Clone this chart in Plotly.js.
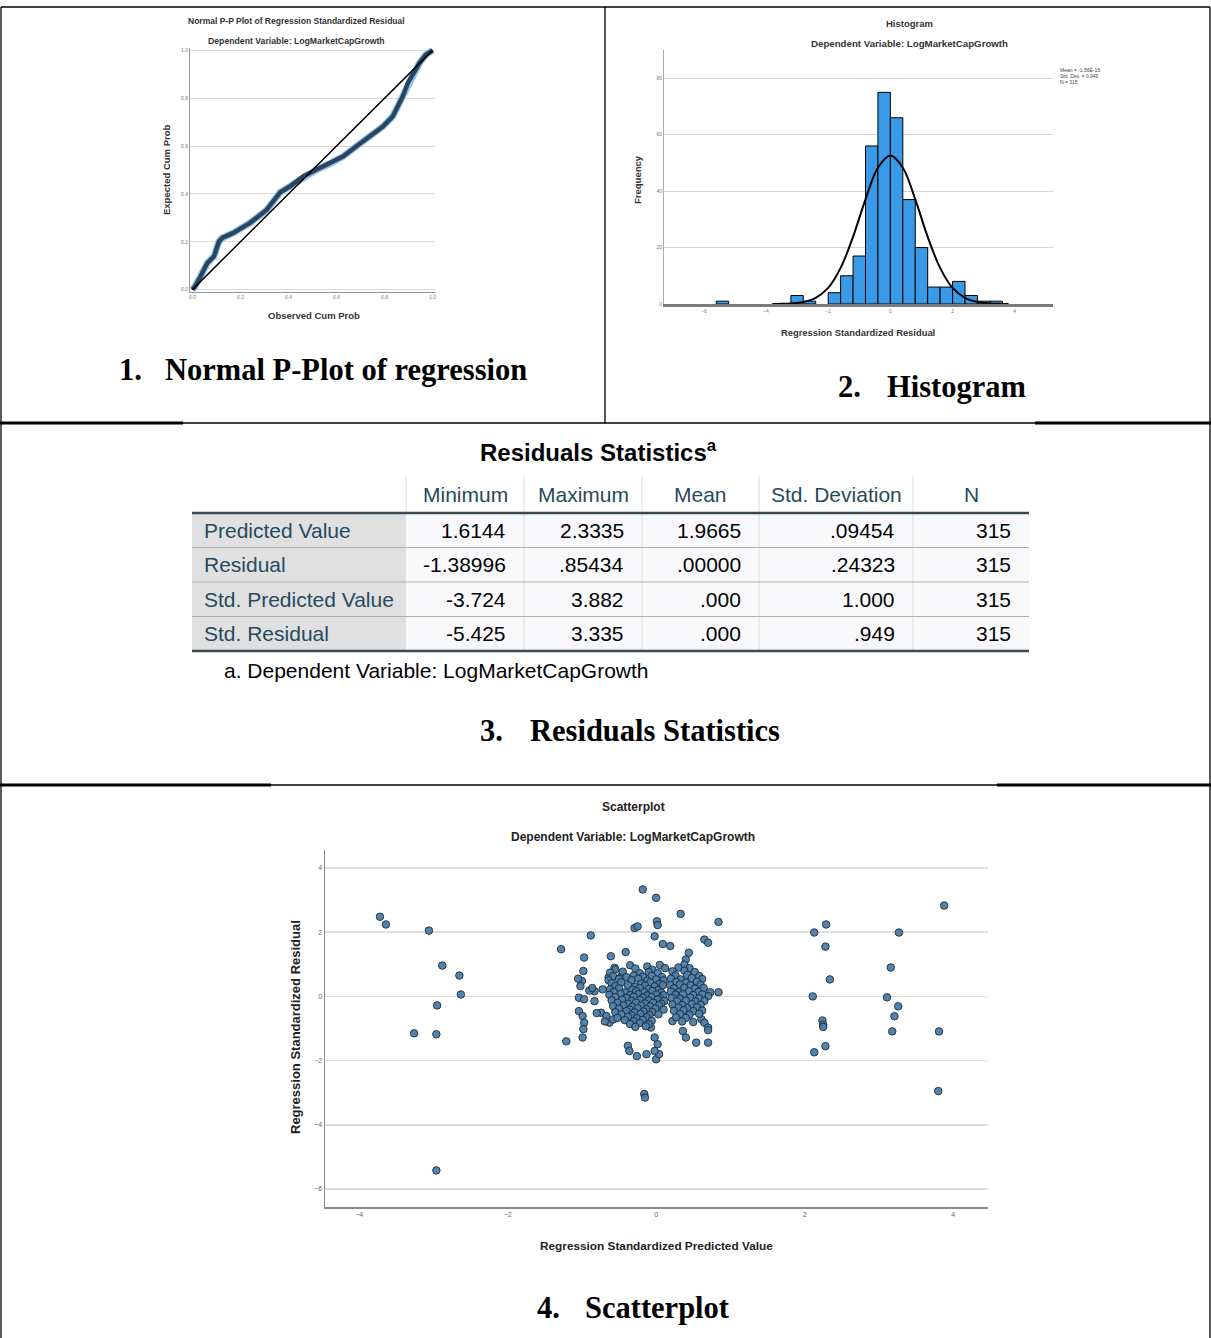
<!DOCTYPE html>
<html><head><meta charset="utf-8">
<script src="https://cdn.plot.ly/plotly-3.0.1.min.js"></script>
<style>html,body{margin:0;padding:0;background:#fff}#chart{width:1211px;height:1338px}</style>
</head><body><div id="chart"></div>
<script>
// ---------------- DATA ----------------
// 1. Normal P-P plot
const ppObserved = [0.0,0.01,0.034,0.062,0.09,0.11,0.124,0.17,0.24,0.31,0.366,0.407,0.462,0.517,0.572,0.628,0.683,0.738,0.793,0.834,0.855,0.876,0.897,0.917,0.945,0.972,1.0];
const ppExpected = [0.0,0.012,0.056,0.111,0.139,0.20,0.216,0.237,0.279,0.334,0.407,0.432,0.474,0.501,0.526,0.557,0.599,0.641,0.682,0.724,0.766,0.808,0.864,0.898,0.947,0.982,1.0];
const diagX = [0, 1];
const diagY = [0, 1];
const ppTicks = [0, 0.2, 0.4, 0.6, 0.8, 1.0];

// 2. Histogram
const histBinCenters = [-5.4,-3.0,-2.6,-1.8,-1.4,-1.0,-0.6,-0.2,0.2,0.6,1.0,1.4,1.8,2.2,2.6,3.0,3.4];
const histCounts     = [1,3,1,4,10,17,56,75,66,37,20,6,6,8,3,1,1];
const histBinWidth = 0.4;
const curveX = [-3.8,-3.6,-3.2,-2.8,-2.4,-2.0,-1.6,-1.2,-0.8,-0.4,0,0.4,0.8,1.2,1.6,2.0,2.4,2.8,3.2,3.6,3.8];
const curveY = [0.02,0.04,0.18,0.7,2.2,5.7,12.8,23.8,37.1,48.3,52.6,48.3,37.1,23.8,12.8,5.7,2.2,0.7,0.18,0.04,0.02];
const histXTicks = [-6,-4,-2,0,2,4];
const histYTicks = [0,20,40,60,80];
const histStats = ["Mean = -1.56E-15", "Std. Dev. = 0.949", "N = 315"];

// 3. Residuals Statistics table
const tableTitle = "Residuals Statistics";
const colHeaders = ["Minimum","Maximum","Mean","Std. Deviation","N"];
const rowLabels  = ["Predicted Value","Residual","Std. Predicted Value","Std. Residual"];
const colMinimum = ["1.6144","-1.38996","-3.724","-5.425"];
const colMaximum = ["2.3335",".85434","3.882","3.335"];
const colMean    = ["1.9665",".00000",".000",".000"];
const colStdDev  = [".09454",".24323","1.000",".949"];
const colN       = ["315","315","315","315"];
const tableFootnote = "a. Dependent Variable: LogMarketCapGrowth";

// 4. Scatterplot (x = standardized predicted value, y = standardized residual)
const leftOutliers = [[-3.72,2.48],[-3.64,2.24],[-3.06,2.05],[-2.88,0.96],[-2.65,0.65],[-2.63,0.06],[-2.95,-0.28],[-3.26,-1.15],[-2.96,-1.18],[-2.96,-5.42]];
const rightOutliers = [[3.88,2.83],[3.27,1.99],[3.16,0.90],[3.11,-0.03],[3.26,-0.31],[3.21,-0.62],[3.18,-1.09],[3.81,-1.09],[3.80,-2.95],
  [2.29,2.24],[2.13,1.99],[2.28,1.55],[2.34,0.53],[2.11,0.0],[2.24,-0.75],[2.25,-0.88],[2.25,-0.95],[2.28,-1.55],[2.13,-1.74]];
const centralFringe = [[-0.18,3.33],[0.0,3.07],[0.33,2.57],[0.84,2.32],[-0.29,2.13],[-0.25,2.18],[0.01,2.34],[0.02,2.22],[-0.02,1.87],
  [-0.88,1.90],[-1.28,1.47],[0.09,1.63],[0.19,1.57],[0.65,1.77],[0.70,1.67],[-0.97,1.21],[-0.41,1.38],[-0.61,1.25],[0.44,1.36],[0.40,1.15],[0.38,0.99],
  [-0.98,0.79],[-1.0,0.48],[-1.05,0.55],[-1.02,0.32],[-1.04,-0.04],[-0.97,-0.09],[-1.04,-0.46],[-0.99,-0.61],[-0.97,-0.82],[-0.98,-1.02],[-0.99,-1.28],[-1.21,-1.40],
  [-0.83,0.16],[-0.72,0.22],[-0.64,0.60],[-0.83,-0.15],[-0.90,0.18],[-0.86,0.26],[-0.74,-0.51],[-0.67,-0.61],[-0.63,-0.82],[-0.58,-0.72],[-0.80,-0.52],[-0.69,-0.78],
  [-0.56,0.89],[-0.47,0.63],[-0.38,-1.54],[-0.36,-1.70],[-0.13,-1.80],[-0.07,-0.97],[-0.02,-1.28],[0.02,-1.49],[0.0,-1.96],[0.04,-1.80],[-0.02,-1.70],[-0.26,-1.86],
  [0.84,0.13],[0.73,0.13],[0.70,0.01],[0.61,-0.71],[0.65,-0.82],[0.70,-0.97],[0.70,-1.05],[0.22,-0.77],[0.36,-1.08],[0.40,-1.28],[0.54,-1.44],[0.70,-1.44],
  [-0.16,-3.04],[-0.15,-3.15]];
const coreLeft = [[-0.35,0.97],[-0.12,0.93],[0.05,0.98],
  [-0.55,0.84],[-0.28,0.87],[-0.05,0.83],[0.12,0.88],
  [-0.62,0.74],[-0.45,0.77],[-0.22,0.72],[-0.1,0.76],[0.02,0.73],
  [-0.58,0.63],[-0.4,0.6],[-0.3,0.65],[-0.18,0.61],[-0.06,0.64],[0.08,0.6],
  [-0.64,0.5],[-0.5,0.54],[-0.33,0.51],[-0.24,0.55],[-0.12,0.49],[0.0,0.53],[0.1,0.5],
  [-0.6,0.41],[-0.47,0.44],[-0.2,0.4],[-0.08,0.43],[0.04,0.39],
  [-0.55,0.32],[-0.38,0.35],[-0.28,0.3],[-0.15,0.34],[-0.02,0.31],[0.09,0.35],
  [-0.62,0.22],[-0.5,0.25],[-0.32,0.21],[-0.22,0.26],[-0.1,0.23],[0.02,0.2],
  [-0.57,0.14],[-0.42,0.12],[-0.27,0.16],[-0.16,0.13],[-0.05,0.17],[0.07,0.12],
  [-0.63,0.05],[-0.48,0.08],[-0.35,0.04],[-0.24,0.07],[-0.12,0.03],[0.0,0.06],[0.1,0.04],
  [-0.55,-0.02],[-0.4,-0.05],[-0.3,-0.01],[-0.18,-0.04],[-0.06,-0.02],[0.05,-0.06],
  [-0.6,-0.12],[-0.46,-0.1],[-0.33,-0.14],[-0.22,-0.11],[-0.1,-0.13],[0.02,-0.1],[0.11,-0.14],
  [-0.52,-0.2],[-0.38,-0.23],[-0.27,-0.19],[-0.15,-0.22],[-0.04,-0.2],[0.07,-0.23],
  [-0.58,-0.3],[-0.44,-0.28],[-0.32,-0.32],[-0.2,-0.29],[-0.08,-0.31],[0.04,-0.28],
  [-0.5,-0.38],[-0.36,-0.41],[-0.25,-0.37],[-0.13,-0.4],[-0.01,-0.38],[0.1,-0.41],
  [-0.55,-0.49],[-0.4,-0.46],[-0.29,-0.5],[-0.17,-0.47],[-0.05,-0.49],
  [-0.47,-0.56],[-0.33,-0.59],[-0.21,-0.55],[-0.09,-0.58],[0.03,-0.56],
  [-0.52,-0.67],[-0.38,-0.64],[-0.26,-0.68],[-0.13,-0.65],
  [-0.42,-0.74],[-0.3,-0.77],[-0.18,-0.73],[-0.06,-0.76],
  [-0.35,-0.86],[-0.22,-0.83],[-0.1,-0.87],
  [-0.28,-0.95],[-0.14,-0.93]];
const coreRight = [[0.3,0.9],[0.45,0.88],
  [0.22,0.78],[0.38,0.8],[0.52,0.76],
  [0.26,0.65],[0.42,0.67],[0.58,0.63],
  [0.2,0.55],[0.33,0.53],[0.48,0.57],[0.62,0.54],
  [0.27,0.45],[0.4,0.43],[0.55,0.46],
  [0.19,0.35],[0.32,0.37],[0.46,0.34],[0.6,0.36],
  [0.24,0.25],[0.38,0.27],[0.52,0.24],[0.64,0.26],
  [0.2,0.15],[0.3,0.13],[0.44,0.16],[0.57,0.14],
  [0.26,0.05],[0.36,0.07],[0.5,0.04],[0.62,0.06],
  [0.21,-0.05],[0.32,-0.07],[0.46,-0.04],[0.58,-0.06],
  [0.28,-0.15],[0.4,-0.13],[0.53,-0.16],[0.65,-0.14],
  [0.22,-0.25],[0.35,-0.27],[0.48,-0.24],[0.6,-0.26],
  [0.3,-0.35],[0.42,-0.37],[0.55,-0.34],
  [0.24,-0.45],[0.37,-0.43],[0.5,-0.46],[0.62,-0.44],
  [0.32,-0.55],[0.45,-0.57],[0.58,-0.54],
  [0.27,-0.65],[0.4,-0.67],
  [0.35,-0.78],[0.5,-0.8]];
const scatterXTicks = [-4,-2,0,2,4];
const scatterYTicks = [-6,-4,-2,0,2,4];

// ---------------- LAYOUT HELPERS ----------------
const W = 1211, H = 1338;
const fx = p => p / W;
const fy = p => 1 - p / H;
const SANS = "Liberation Sans, Arial, sans-serif";
const SERIF = "Liberation Serif, Times New Roman, serif";
const shapes = [];
const annotations = [];
function line(x0, y0, x1, y1, color, width) {
  shapes.push({type:'line', xref:'paper', yref:'paper', x0:fx(x0), y0:fy(y0), x1:fx(x1), y1:fy(y1), line:{color:color, width:width}});
}
function rect(x0, y0, x1, y1, fill) {
  shapes.push({type:'rect', xref:'paper', yref:'paper', x0:fx(x0), y0:fy(y0), x1:fx(x1), y1:fy(y1), fillcolor:fill, line:{width:0}, layer:'below'});
}
function text(t, x, y, size, opts) {
  const o = Object.assign({xanchor:'center', yanchor:'middle', color:'#222', bold:false, family:SANS, angle:0}, opts || {});
  annotations.push({text: o.bold ? '<b>' + t + '</b>' : t, x:fx(x), y:fy(y), xref:'paper', yref:'paper', showarrow:false,
    xanchor:o.xanchor, yanchor:o.yanchor, textangle:o.angle, font:{family:o.family, size:size, color:o.color}});
}

// Frame of the document table
const frame = '#000';
line(1, 7, 1210, 7, frame, 1.3);
line(1, 7, 1, H, frame, 1.3);
line(1210, 7, 1210, H, frame, 1.3);
line(605, 7, 605, 423, frame, 1.3);
line(0, 423, W, 423, frame, 1.3);
line(0, 423, 183, 423, frame, 3);
line(1035, 423, W, 423, frame, 3);
line(0, 785, W, 785, frame, 1.3);
line(0, 785, 271, 785, frame, 3);
line(997, 785, W, 785, frame, 3);

// Section captions
const capFont = 30.5;
text('1.', 117, 370, capFont, {family:SERIF, bold:true, color:'#000', xanchor:'left'});
text('Normal P-Plot of regression', 163, 370, capFont, {family:SERIF, bold:true, color:'#000', xanchor:'left'});
text('2.', 836, 387, capFont, {family:SERIF, bold:true, color:'#000', xanchor:'left'});
text('Histogram', 885, 387, capFont, {family:SERIF, bold:true, color:'#000', xanchor:'left'});
text('3.', 478, 731, capFont, {family:SERIF, bold:true, color:'#000', xanchor:'left'});
text('Residuals Statistics', 528, 731, capFont, {family:SERIF, bold:true, color:'#000', xanchor:'left'});
text('4.', 535, 1308, capFont, {family:SERIF, bold:true, color:'#000', xanchor:'left'});
text('Scatterplot', 583, 1308, capFont, {family:SERIF, bold:true, color:'#000', xanchor:'left'});

// P-P plot texts
text('Normal P-P Plot of Regression Standardized Residual', 296, 21, 8.5, {bold:true, color:'#333'});
text('Dependent Variable: LogMarketCapGrowth', 296, 41, 8.7, {bold:true, color:'#333'});
text('Expected Cum Prob', 166, 170, 9.5, {bold:true, color:'#333', angle:-90});
text('Observed Cum Prob', 314, 316, 9.5, {bold:true, color:'#333'});

// Histogram texts
text('Histogram', 909, 23, 9.5, {bold:true, color:'#333'});
text('Dependent Variable: LogMarketCapGrowth', 909, 43, 9.7, {bold:true, color:'#333'});
text('Frequency', 638, 180, 9.5, {bold:true, color:'#333', angle:-90});
text('Regression Standardized Residual', 858, 333, 9.4, {bold:true, color:'#333'});
histStats.forEach((s, i) => text(s, 1058, 70 + i * 6, 5, {xanchor:'left', color:'#444'}));

// Scatterplot texts
text('Scatterplot', 633, 807, 12, {bold:true, color:'#222'});
text('Dependent Variable: LogMarketCapGrowth', 633, 837, 12, {bold:true, color:'#222'});
text('Regression Standardized Residual', 295, 1027, 13, {bold:true, color:'#222', angle:-90});
text('Regression Standardized Predicted Value', 656, 1246, 11.8, {bold:true, color:'#222'});

// ---------------- TABLE (Residuals Statistics) ----------------
const colEdges = [192, 406, 524, 642, 759, 913, 1029];
const headTop = 476, bodyTop = 513, rowH = 34.5;
const tableCols = [colMinimum, colMaximum, colMean, colStdDev, colN];
const cellFont = 21;
const labelColor = '#264a60', dataColor = '#010205';
text(tableTitle + '<sup>a</sup>', 598, 451, 24, {bold:true, color:dataColor});
rowLabels.forEach((lab, r) => {
  const y0 = bodyTop + r * rowH, y1 = y0 + rowH;
  rect(colEdges[0], y0, colEdges[1], y1, '#e0e0e0');
  rect(colEdges[1], y0, colEdges[6], y1, '#f9f9fb');
  text(lab, colEdges[0] + 10, (y0 + y1) / 2, cellFont, {xanchor:'left', color:labelColor});
  tableCols.forEach((col, c) => text(col[r], colEdges[c + 2] - 16, (y0 + y1) / 2, cellFont, {xanchor:'right', color:dataColor}));
});
colHeaders.forEach((h, c) => text(h, (colEdges[c + 1] + colEdges[c + 2]) / 2, (headTop + bodyTop) / 2, cellFont, {color:labelColor}));
for (let c = 1; c <= 5; c++) line(colEdges[c], headTop, colEdges[c], c === 1 ? bodyTop : bodyTop + rowH * rowLabels.length, '#dcdcdc', 1);
for (let r = 1; r < rowLabels.length; r++) line(colEdges[0], bodyTop + r * rowH, colEdges[6], bodyTop + r * rowH, '#aeaeae', 1);
line(colEdges[0], bodyTop, colEdges[6], bodyTop, '#3e4a52', 2.5);
line(colEdges[0], bodyTop + rowH * rowLabels.length, colEdges[6], bodyTop + rowH * rowLabels.length, '#3e4a52', 2.5);
text(tableFootnote, 222, 670, cellFont, {xanchor:'left', color:dataColor});

// ---------------- TRACES ----------------
const scatterPts = leftOutliers.concat(rightOutliers, centralFringe, coreLeft, coreRight);
const traces = [
  {type:'scatter', mode:'lines', x:ppObserved, y:ppExpected, xaxis:'x', yaxis:'y', line:{color:'#9cc3e0', width:7}, hoverinfo:'skip'},
  {type:'scatter', mode:'lines', x:ppObserved, y:ppExpected, xaxis:'x', yaxis:'y', line:{color:'#264663', width:4.5}},
  {type:'scatter', mode:'lines', x:diagX, y:diagY, xaxis:'x', yaxis:'y', line:{color:'#000', width:1.5}},
  {type:'bar', x:histBinCenters, y:histCounts, width:histBinWidth, xaxis:'x2', yaxis:'y2',
   marker:{color:'#3a9ae8', line:{color:'#000', width:1}}},
  {type:'scatter', mode:'lines', x:curveX, y:curveY, xaxis:'x2', yaxis:'y2', line:{color:'#000', width:2, shape:'spline'}},
  {type:'scatter', mode:'markers', x:scatterPts.map(p => p[0]), y:scatterPts.map(p => p[1]), xaxis:'x3', yaxis:'y3',
   marker:{size:7.5, color:'#4a7eaa', opacity:0.95, line:{color:'#1f2d3a', width:1}}}
];

const tinyTick = {family:SANS, size:5, color:'#777'};
const layout = {
  width:W, height:H, margin:{l:0, r:0, t:0, b:0}, showlegend:false,
  paper_bgcolor:'#fff', plot_bgcolor:'#fff', bargap:0,
  xaxis:{domain:[fx(190), fx(435)], range:[-0.01, 1.01], anchor:'y', tickvals:ppTicks, tickformat:'.1f',
    showgrid:false, zeroline:false, showline:true, linecolor:'#999', linewidth:1, ticks:'', tickfont:tinyTick, fixedrange:true},
  yaxis:{domain:[fy(292), fy(48)], range:[-0.01, 1.01], anchor:'x', tickvals:ppTicks, tickformat:'.1f',
    showgrid:true, gridcolor:'#d9d9d9', gridwidth:1, zeroline:false, showline:true, linecolor:'#999', linewidth:1, ticks:'', tickfont:tinyTick, fixedrange:true},
  xaxis2:{domain:[fx(664), fx(1053)], range:[-7.28, 5.23], anchor:'y2', tickvals:histXTicks,
    showgrid:false, zeroline:false, showline:true, linecolor:'#7a7a7a', linewidth:3, ticks:'', tickfont:tinyTick, fixedrange:true},
  yaxis2:{domain:[fy(304), fy(50)], range:[0, 90], anchor:'x2', tickvals:histYTicks,
    showgrid:true, gridcolor:'#d4d4d4', gridwidth:1, zeroline:false, showline:true, linecolor:'#aaa', linewidth:1, ticks:'', tickfont:tinyTick, fixedrange:true},
  xaxis3:{domain:[fx(325), fx(988)], range:[-4.46, 4.47], anchor:'y3', tickvals:scatterXTicks,
    showgrid:false, zeroline:false, showline:true, linecolor:'#8a8a8a', linewidth:1.5, ticks:'', tickfont:{family:SANS, size:7, color:'#666'}, fixedrange:true},
  yaxis3:{domain:[fy(1207), fy(850)], range:[-6.56, 4.56], anchor:'x3', tickvals:scatterYTicks,
    showgrid:true, gridcolor:'#dedede', gridwidth:1.5, zeroline:false, showline:true, linecolor:'#8a8a8a', linewidth:1.5, ticks:'', tickfont:{family:SANS, size:7, color:'#666'}, fixedrange:true},
  shapes:shapes, annotations:annotations
};
Plotly.newPlot('chart', traces, layout, {displayModeBar:false, staticPlot:true});
</script></body></html>
